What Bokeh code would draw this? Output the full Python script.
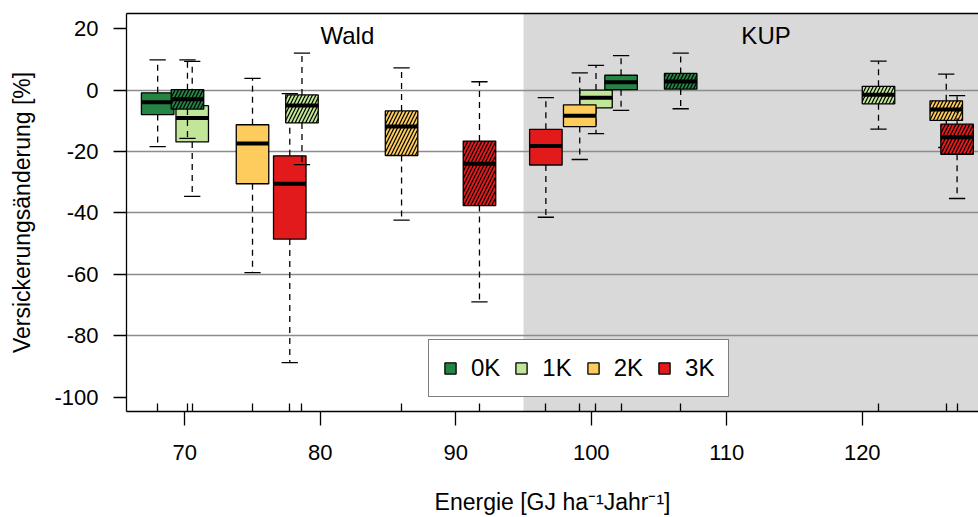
from bokeh.plotting import figure
from bokeh.models import Range1d, FixedTicker, LinearAxis, BoxAnnotation, Legend, LegendItem, Label
from bokeh.embed import file_html
from bokeh.resources import INLINE

# ---------------- data ----------------
temps = ["0K", "1K", "2K", "3K"]
colors = ["#238443", "#c2e699", "#fecc5c", "#e31a1c"]

# energy (x) positions per temperature scenario
wald_solid_x = [68.0, 70.55, 75.0, 77.75]
wald_hatch_x = [70.2, 78.65, 86.0, 91.75]
kup_solid_x = [102.2, 100.35, 99.15, 96.65]
kup_hatch_x = [106.6, 121.2, 126.2, 127.0]

# box statistics per temperature (0K, 1K, 2K, 3K)
wald_solid_low = [-18.4, -34.6, -59.4, -88.7]
wald_solid_q1 = [-8.0, -16.9, -30.5, -48.5]
wald_solid_med = [-4.0, -9.1, -17.4, -30.5]
wald_solid_q3 = [-0.9, -5.1, -11.3, -21.4]
wald_solid_high = [9.8, 9.3, 3.8, -1.2]

wald_hatch_low = [-15.7, -24.3, -42.3, -68.9]
wald_hatch_q1 = [-6.2, -10.7, -21.3, -37.6]
wald_hatch_med = [-3.0, -5.0, -11.9, -24.0]
wald_hatch_q3 = [0.1, -1.6, -6.8, -16.6]
wald_hatch_high = [9.8, 12.0, 7.2, 2.7]

kup_solid_low = [-6.6, -14.2, -22.6, -41.4]
kup_solid_q1 = [0.1, -5.8, -11.9, -24.4]
kup_solid_med = [2.5, -2.5, -8.4, -18.2]
kup_solid_q3 = [4.8, 0.0, -4.8, -12.8]
kup_solid_high = [11.2, 8.0, 5.6, -2.5]

kup_hatch_low = [-6.1, -12.7, -18.7, -35.3]
kup_hatch_q1 = [0.3, -4.5, -9.9, -20.9]
kup_hatch_med = [2.8, -1.5, -6.3, -15.4]
kup_hatch_q3 = [5.4, 1.2, -3.5, -11.1]
kup_hatch_high = [12.0, 9.4, 5.2, -1.8]

y_ticks = [-100, -80, -60, -40, -20, 0, 20]
y_tick_labels = ["-100", "-80", "-60", "-40", "-20", "0", "20"]
y_grid = [-80, -60, -40, -20, 0]
x_ticks = [70, 80, 90, 100, 110, 120]
kup_start = 95

# ---------------- figure ----------------
FONT = "Liberation Sans"
BOX_W = 2.4

p = figure(width=978, height=517, output_backend="svg", toolbar_location=None,
           x_range=Range1d(65.7, 128.58), y_range=Range1d(-104.6, 24.9),
           min_border_left=126, min_border_right=0, min_border_top=13, min_border_bottom=106)
p.outline_line_color = None
p.background_fill_color = "white"
p.border_fill_color = "white"

p.add_layout(BoxAnnotation(left=kup_start, fill_color="#d9d9d9", fill_alpha=1.0,
                           line_alpha=0, level="image"))

p.xgrid.visible = False
p.ygrid.ticker = FixedTicker(ticks=y_grid)
p.ygrid.grid_line_color = "#8c8c8c"
p.ygrid.grid_line_width = 1.3

all_x = wald_solid_x + wald_hatch_x + kup_solid_x + kup_hatch_x

xa = p.xaxis[0]
xa.ticker = FixedTicker(ticks=x_ticks, minor_ticks=sorted(all_x))
xa.major_tick_out = 14
xa.major_tick_in = 0
xa.minor_tick_in = 8
xa.minor_tick_out = 0
xa.major_tick_line_width = 1.3
xa.minor_tick_line_width = 1.3
xa.axis_line_width = 1.3
xa.major_label_standoff = 19
xa.major_label_text_font = FONT
xa.major_label_text_font_size = "22px"
xa.major_label_text_color = "black"
xa.axis_label = "Energie [GJ ha\u207b\u00b9Jahr\u207b\u00b9]"
xa.axis_label_text_font = FONT
xa.axis_label_text_font_size = "23px"
xa.axis_label_text_font_style = "normal"
xa.axis_label_text_color = "black"
xa.axis_label_standoff = 26

ya = p.yaxis[0]
ya.ticker = FixedTicker(ticks=y_ticks)
ya.major_label_overrides = {t: s for t, s in zip(y_ticks, y_tick_labels)}
ya.major_tick_out = 13
ya.major_tick_in = 0
ya.minor_tick_out = 0
ya.minor_tick_in = 0
ya.major_tick_line_width = 1.3
ya.axis_line_width = 1.3
ya.major_label_standoff = 15
ya.major_label_text_font = FONT
ya.major_label_text_font_size = "22px"
ya.major_label_text_color = "black"
ya.axis_label = "Versickerungs\u00e4nderung [%]"
ya.axis_label_text_font = FONT
ya.axis_label_text_font_size = "23px"
ya.axis_label_text_font_style = "normal"
ya.axis_label_text_color = "black"
ya.axis_label_standoff = 16

top = LinearAxis(ticker=FixedTicker(ticks=[]), major_tick_out=0, major_tick_in=0,
                 minor_tick_out=0, minor_tick_in=0, major_label_text_font_size="0px",
                 major_label_standoff=0, axis_line_width=1.5)
p.add_layout(top, "above")


def draw_box(x, lo, q1, med, q3, hi, color, hatched):
    kw = {}
    if hatched:
        kw = dict(hatch_pattern="/", hatch_color="black", hatch_scale=7, hatch_weight=1.2)
    r = p.vbar(x=[x], width=BOX_W, bottom=[q1], top=[q3], fill_color=color,
               line_color="black", line_width=1.3, **kw)
    p.segment(x0=[x - BOX_W / 2], x1=[x + BOX_W / 2], y0=[med], y1=[med],
              line_color="black", line_width=4)
    p.segment(x0=[x, x], x1=[x, x], y0=[q1, q3], y1=[lo, hi],
              line_color="black", line_width=1.3, line_dash="6 5")
    p.segment(x0=[x - BOX_W / 4] * 2, x1=[x + BOX_W / 4] * 2, y0=[lo, hi], y1=[lo, hi],
              line_color="black", line_width=1.3)
    return r


groups = [
    (wald_solid_x, wald_solid_low, wald_solid_q1, wald_solid_med, wald_solid_q3, wald_solid_high, False),
    (kup_solid_x, kup_solid_low, kup_solid_q1, kup_solid_med, kup_solid_q3, kup_solid_high, False),
    (wald_hatch_x, wald_hatch_low, wald_hatch_q1, wald_hatch_med, wald_hatch_q3, wald_hatch_high, True),
    (kup_hatch_x, kup_hatch_low, kup_hatch_q1, kup_hatch_med, kup_hatch_q3, kup_hatch_high, True),
]

legend_renderers = {}
for xs, lo, q1, med, q3, hi, hatched in groups:
    for i in range(len(temps)):
        r = draw_box(xs[i], lo[i], q1[i], med[i], q3[i], hi[i], colors[i], hatched)
        if not hatched and temps[i] not in legend_renderers:
            legend_renderers[temps[i]] = r

p.add_layout(Label(x=82, y=17.9, text="Wald", text_align="center", text_baseline="alphabetic",
                   text_font=FONT, text_font_size="24px", text_color="black"))
p.add_layout(Label(x=112.9, y=17.9, text="KUP", text_align="center", text_baseline="alphabetic",
                   text_font=FONT, text_font_size="24px", text_color="black"))

legend = Legend(items=[LegendItem(label=t, renderers=[legend_renderers[t]]) for t in temps],
                location=(302, 14), orientation="horizontal",
                padding=14, spacing=14, label_standoff=14, glyph_width=14, glyph_height=14,
                label_height=26, margin=0,
                label_text_font=FONT, label_text_font_size="24px", label_text_color="black",
                border_line_color="black", border_line_width=1.3,
                background_fill_color="white", background_fill_alpha=1.0)
p.add_layout(legend, "center")

open("out.html", "w").write(file_html(p, INLINE))
